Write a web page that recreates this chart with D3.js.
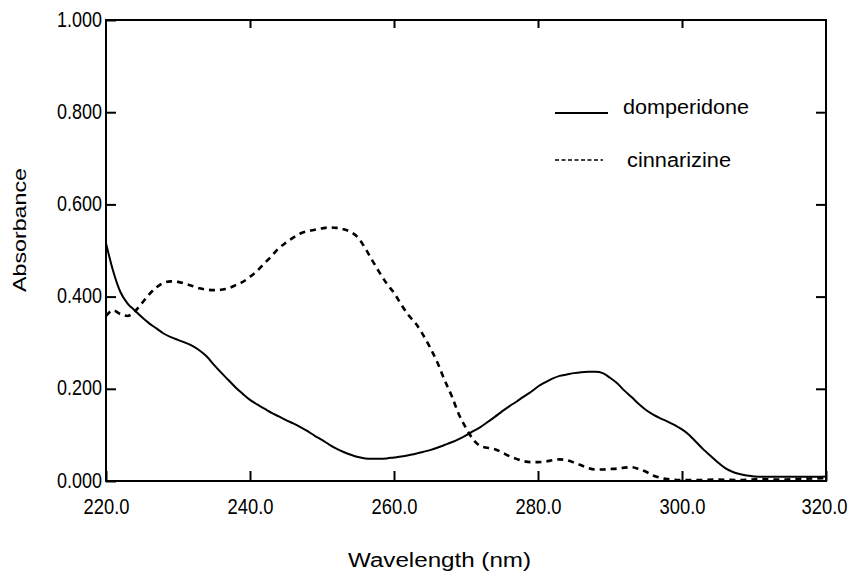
<!DOCTYPE html>
<html>
<head>
<meta charset="utf-8">
<script src="https://cdn.jsdelivr.net/npm/d3@7"></script>
<style>
  html, body { margin: 0; padding: 0; background: #fff; }
  svg { display: block; }
  text { font-family: "Liberation Sans", Arial, sans-serif; fill: #000; }
</style>
</head>
<body>
<svg id="chart" width="851" height="575"></svg>
<script>
// ---- data ----
const xTicks = [220, 240, 260, 280, 300, 320];
const yTicks = [0, 0.2, 0.4, 0.6, 0.8, 1.0];
const seriesNames = ["domperidone", "cinnarizine"];

const domWl = [220,221,222,223,224,225,226,227,228,229,230,231,232,233,234,235,236,237,238,239,240,241,242,243,244,245,246,247,248,249,250,251,252,253,254,255,256,257,258,259,260,261,262,263,264,265,266,267,268,269,270,271,272,273,274,275,276,277,278,279,280,281,282,283,284,285,286,287,288,289,290,291,292,293,294,295,296,297,298,299,300,301,302,303,304,305,306,307,308,309,310,312,315,318,320];
const domAbs = [0.516,0.455,0.410,0.385,0.370,0.355,0.342,0.331,0.320,0.312,0.306,0.300,0.293,0.283,0.270,0.252,0.235,0.219,0.203,0.189,0.176,0.166,0.157,0.148,0.140,0.132,0.125,0.117,0.108,0.098,0.089,0.079,0.070,0.063,0.057,0.052,0.049,0.048,0.048,0.049,0.051,0.053,0.056,0.059,0.063,0.067,0.072,0.078,0.084,0.091,0.099,0.108,0.117,0.128,0.139,0.151,0.162,0.172,0.183,0.193,0.205,0.214,0.222,0.228,0.231,0.234,0.236,0.237,0.237,0.234,0.224,0.212,0.196,0.182,0.167,0.154,0.144,0.136,0.129,0.121,0.112,0.100,0.084,0.068,0.054,0.040,0.028,0.020,0.015,0.012,0.010,0.009,0.009,0.009,0.010];

const cinWl = [220,221,222,223,224,225,226,227,228,229,230,231,232,233,234,235,236,237,238,239,240,241,242,243,244,245,246,247,248,249,250,251,252,253,254,255,256,257,258,259,260,261,262,263,264,265,266,267,268,269,270,271,272,273,274,275,276,277,278,279,280,281,282,283,284,285,286,287,288,289,290,291,292,293,294,295,296,297,298,300,302,305,308,311,314,317,320];
const cinAbs = [0.358,0.370,0.362,0.358,0.368,0.386,0.405,0.420,0.430,0.433,0.432,0.428,0.423,0.418,0.415,0.414,0.415,0.418,0.425,0.432,0.443,0.456,0.472,0.488,0.505,0.517,0.528,0.537,0.542,0.545,0.548,0.550,0.549,0.546,0.540,0.528,0.505,0.478,0.452,0.428,0.408,0.383,0.360,0.342,0.318,0.290,0.258,0.220,0.185,0.145,0.115,0.090,0.076,0.072,0.069,0.062,0.054,0.048,0.043,0.041,0.041,0.042,0.045,0.047,0.045,0.040,0.034,0.028,0.025,0.025,0.026,0.027,0.029,0.030,0.026,0.020,0.012,0.007,0.004,0.002,0.002,0.003,0.002,0.004,0.003,0.005,0.006];

// ---- layout ----
const L = 106, R = 826, T = 20, B = 481;
const svg = d3.select("#chart");

const x = d3.scaleLinear().domain([220, 320]).range([L, R]);
const y = d3.scaleLinear().domain([0, 1]).range([B, T]);

// frame
svg.append("rect")
  .attr("x", L).attr("y", T).attr("width", R - L).attr("height", B - T)
  .attr("fill", "none").attr("stroke", "#000").attr("stroke-width", 2);

// axes (ticks pointing inward)
const gx = svg.append("g").attr("transform", `translate(0,${B})`)
  .call(d3.axisBottom(x).tickValues(xTicks).tickSize(-10).tickFormat(d3.format(".1f")));
const gxTop = svg.append("g").attr("transform", `translate(0,${T})`)
  .call(d3.axisTop(x).tickValues(xTicks.slice(1, -1)).tickSize(-8).tickFormat(""));
const gy = svg.append("g").attr("transform", `translate(${L},0)`)
  .call(d3.axisLeft(y).tickValues(yTicks).tickSize(-10).tickFormat(d3.format(".3f")));
const gyR = svg.append("g").attr("transform", `translate(${R},0)`)
  .call(d3.axisRight(y).tickValues(yTicks.slice(1, -1)).tickSize(-10).tickFormat(""));

[gx, gxTop, gy, gyR].forEach(g => {
  g.select(".domain").remove();
  g.selectAll(".tick line").attr("stroke", "#000").attr("stroke-width", 2);
});

// condensed tick labels (scaled horizontally)
function condense(sel, targetW, tx, ty) {
  sel.each(function() {
    const t = d3.select(this);
    t.attr("x", null).attr("y", null).attr("dy", null)
      .attr("font-size", 22)
      .style("font-family", "'Liberation Sans', Arial, sans-serif")
      .attr("fill", "#000");
    const w = this.getComputedTextLength();
    const s = targetW / w;
    t.attr("transform", `translate(${tx},${ty}) scale(${s},1)`);
  });
}
condense(gx.selectAll(".tick text"), 46, 0, 33);
gx.selectAll(".tick").filter(d => d === 320).select("text")
  .attr("transform", function() { return this.getAttribute("transform").replace("translate(0,", "translate(-2,"); });
condense(gy.selectAll(".tick text"), 45, -4, 6);

// curves
const line = d3.line().x(d => x(d[0])).y(d => y(d[1])).curve(d3.curveMonotoneX);
const domData = d3.zip(domWl, domAbs);
const cinData = d3.zip(cinWl, cinAbs);

svg.append("path").datum(cinData)
  .attr("d", line).attr("fill", "none")
  .attr("stroke", "#000").attr("stroke-width", 2.6)
  .attr("stroke-dasharray", "6,5");

svg.append("path").datum(domData)
  .attr("d", line).attr("fill", "none")
  .attr("stroke", "#000").attr("stroke-width", 2);

// axis titles
svg.append("text")
  .attr("transform", `translate(26,230) rotate(-90)`)
  .attr("text-anchor", "middle")
  .attr("font-size", 19)
  .attr("textLength", 124).attr("lengthAdjust", "spacingAndGlyphs")
  .text("Absorbance");

svg.append("text")
  .attr("x", 348).attr("y", 567)
  .attr("font-size", 20)
  .attr("textLength", 183).attr("lengthAdjust", "spacingAndGlyphs")
  .text("Wavelength (nm)");

// legend
const legend = svg.append("g");
legend.append("line")
  .attr("x1", 555).attr("x2", 608).attr("y1", 113).attr("y2", 113)
  .attr("stroke", "#000").attr("stroke-width", 2);
legend.append("text")
  .attr("x", 623).attr("y", 114)
  .attr("font-size", 20)
  .attr("textLength", 126).attr("lengthAdjust", "spacingAndGlyphs")
  .text(seriesNames[0]);

legend.append("line")
  .attr("x1", 555).attr("x2", 603).attr("y1", 160).attr("y2", 160)
  .attr("stroke", "#000").attr("stroke-width", 1.4)
  .attr("stroke-dasharray", "4,2.5");
legend.append("text")
  .attr("x", 627).attr("y", 167)
  .attr("font-size", 20)
  .attr("textLength", 104).attr("lengthAdjust", "spacingAndGlyphs")
  .text(seriesNames[1]);
</script>
</body>
</html>
